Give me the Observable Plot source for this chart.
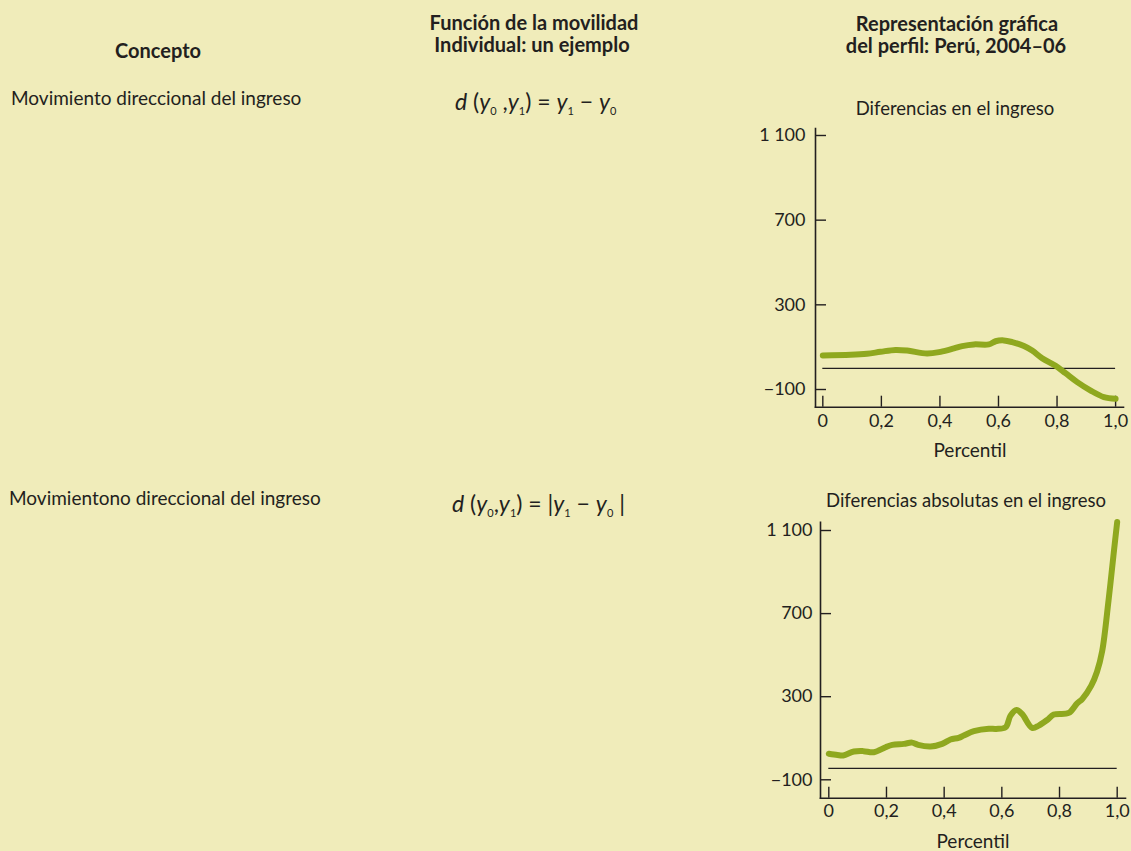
<!DOCTYPE html>
<html>
<head>
<meta charset="utf-8">
<script src="https://cdn.jsdelivr.net/npm/d3@7"></script>
<script src="https://cdn.jsdelivr.net/npm/@observablehq/plot@0.6"></script>
<style>
  html, body { margin: 0; padding: 0; background: #f0ecba; }
  #page { position: relative; width: 1131px; height: 851px; background: #f0ecba; overflow: hidden; font-family: Lato, "Noto Sans", sans-serif; color: #231f20; }
  .chart { position: absolute; }
  .chart svg { overflow: visible; }
</style>
</head>
<body>
<div id="page"></div>
<script>
// ---------- data ----------
const headers = [
  ["Concepto"],
  ["Función de la movilidad", "Individual: un ejemplo"],
  ["Representación gráfica", "del perfil: Perú, 2004–06"]
];
const concepts = ["Movimiento direccional del ingreso", "Movimientono direccional del ingreso"];
const chartTitles = ["Diferencias en el ingreso", "Diferencias absolutas en el ingreso"];
const xLabel = "Percentil";

const pctTicks = [0, 0.2, 0.4, 0.6, 0.8, 1.0];
const pctTickLabels = ["0", "0,2", "0,4", "0,6", "0,8", "1,0"];
const valTicks = [-100, 300, 700, 1100];
const valTickLabels = ["\u2212100", "300", "700", "1 100"];

// Panel 1: directional income movement (y1 - y0) by percentile
const pct1 = [0, 0.095, 0.151, 0.197, 0.248, 0.288, 0.356, 0.402, 0.448, 0.476, 0.516, 0.567, 0.590, 0.618, 0.647, 0.687, 0.715, 0.749, 0.795, 0.829, 0.869, 0.915, 0.960, 1.0];
const diff1 = [61, 64, 69, 78, 87, 84, 70, 78, 94, 105, 113, 113, 128, 132, 124, 105, 84, 48, 12, -23, -65, -105, -136, -144];
const baseline1 = 0;

// Panel 2: non-directional income movement |y1 - y0| by percentile
const pct2 = [0, 0.03, 0.05, 0.087, 0.12, 0.156, 0.197, 0.22, 0.26, 0.289, 0.31, 0.353, 0.393, 0.422, 0.45, 0.468, 0.503, 0.555, 0.58, 0.613, 0.63, 0.651, 0.67, 0.705, 0.728, 0.757, 0.78, 0.832, 0.861, 0.879, 0.91, 0.93, 0.948, 0.97, 0.989, 1.0];
const diff2 = [25, 19, 17, 36, 38, 33, 57, 68, 73, 79, 68, 60, 73, 94, 102, 113, 134, 146, 145, 153, 209, 236, 217, 150, 161, 188, 214, 222, 268, 289, 353, 420, 520, 764, 1005, 1141];
const baseline2 = -45;

// formulas (i = italic, s = subscript)
const formula1 = [{t:"d",i:1},{t:" ("},{t:"y",i:1},{t:"0",s:1},{t:" ,"},{t:"y",i:1},{t:"1",s:1},{t:") = "},{t:"y",i:1},{t:"1",s:1},{t:" \u2212 "},{t:"y",i:1},{t:"0",s:1}];
const formula2 = [{t:"d",i:1},{t:" ("},{t:"y",i:1},{t:"0",s:1},{t:","},{t:"y",i:1},{t:"1",s:1},{t:") = |"},{t:"y",i:1},{t:"1",s:1},{t:" \u2212 "},{t:"y",i:1},{t:"0",s:1},{t:" |"}];

// ---------- layout ----------
const INK = "#231f20";
const GREEN = "#8fa81f";
const FONT = "Lato, 'Noto Sans', sans-serif";
const page = d3.select("#page");
const svg = page.append("svg")
  .attr("width", 1131).attr("height", 851)
  .style("position", "absolute").style("left", 0).style("top", 0)
  .style("font-family", FONT).attr("fill", INK);

function txt(s, x, y, opts = {}) {
  return svg.append("text").attr("x", x).attr("y", y)
    .attr("text-anchor", opts.anchor || "start")
    .attr("font-size", opts.size || 18)
    .attr("font-weight", opts.weight || "normal")
    .text(s);
}

// headers
txt(headers[0][0], 158, 58, {anchor: "middle", weight: "bold", size: 20});
txt(headers[1][0], 534, 30, {anchor: "middle", weight: "bold", size: 20});
txt(headers[1][1], 532, 52, {anchor: "middle", weight: "bold", size: 20});
txt(headers[2][0], 957, 31, {anchor: "middle", weight: "bold", size: 20});
txt(headers[2][1], 956, 53, {anchor: "middle", weight: "bold", size: 20});

// concept labels
txt(concepts[0], 11, 105, {size: 19});
txt(concepts[1], 9, 505, {size: 19});

// chart titles + axis labels
txt(chartTitles[0], 955, 115, {anchor: "middle", size: 18.5});
txt(chartTitles[1], 966, 507, {anchor: "middle", size: 18.5});
txt(xLabel, 970, 457, {anchor: "middle", size: 19});
txt(xLabel, 973, 848, {anchor: "middle", size: 19});

function formula(parts, x, y) {
  const t = svg.append("text").attr("x", x).attr("y", y)
    .attr("font-size", 23).style("white-space", "pre");
  let shifted = false;
  parts.forEach(p => {
    const sp = t.append("tspan").text(p.t);
    if (p.i) sp.attr("font-style", "italic");
    if (p.s) {
      sp.attr("font-size", 11);
      if (!shifted) { sp.attr("dy", 5); shifted = true; }
    } else if (shifted) {
      sp.attr("dy", -5); shifted = false;
    }
  });
}
formula(formula1, 455, 110);
formula(formula2, 452, 512);

// ---------- charts ----------
function chart(pct, diff, baseline, box) {
  const data = pct.map((p, i) => ({p, v: diff[i]}));
  const plot = Plot.plot({
    width: box.width, height: box.height,
    marginLeft: box.ml, marginRight: box.mr, marginTop: box.mt, marginBottom: box.mb,
    x: {domain: box.xd},
    y: {domain: box.yd},
    style: {background: "transparent", fontFamily: FONT, fontSize: "18px", color: INK, overflow: "visible"},
    marks: [
      Plot.frame({anchor: "left", stroke: INK, strokeWidth: 1.6}),
      Plot.frame({anchor: "bottom", stroke: INK, strokeWidth: 1.6}),
      Plot.axisY(valTicks, {tickSize: 11, dx: 11, fill: "none", stroke: INK, strokeWidth: 1.4, label: null}),
      Plot.axisY(valTicks, {tickSize: 0, tickPadding: box.yPad, tickFormat: (d, i) => valTickLabels[i], label: null, fill: INK}),
      Plot.axisX(pctTicks, {tickSize: 11, dy: -11, fill: "none", stroke: INK, strokeWidth: 1.4, label: null}),
      Plot.axisX(pctTicks, {tickSize: 0, tickPadding: box.xPad, tickFormat: (d, i) => pctTickLabels[i], label: null, fill: INK}),
      Plot.ruleY([baseline], {x1: pctTicks[0], x2: pctTicks[pctTicks.length - 1], stroke: INK, strokeWidth: 1.1}),
      Plot.line(data, {x: "p", y: "v", stroke: GREEN, strokeWidth: 6, curve: "catmull-rom", strokeLinecap: "round", strokeLinejoin: "round"})
    ]
  });
  const div = page.append("div").attr("class", "chart")
    .style("left", box.left + "px").style("top", box.top + "px");
  div.node().appendChild(plot);
}

chart(pct1, diff1, baseline1, {
  left: 740, top: 120, width: 391, height: 345,
  ml: 75, mr: 8, mt: 8, mb: 58.3,
  xd: [-0.025, 1.027], yd: [-183.6, 1133],
  yPad: 10, xPad: 7
});
chart(pct2, diff2, baseline2, {
  left: 740, top: 515, width: 391, height: 336,
  ml: 80, mr: 6, mt: 6.7, mb: 53.3,
  xd: [-0.0288, 1.0288], yd: [-188.6, 1140],
  yPad: 8, xPad: 6
});
</script>
</body>
</html>
